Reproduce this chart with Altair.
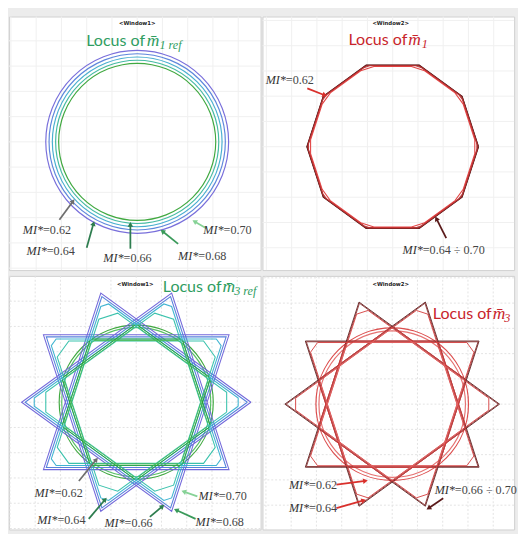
import math
import pandas as pd
import altair as alt

PX = 26.0  # pixels per grid cell (1 data unit = 1 grid cell)

# ---------------- panel frames (data units, locus centre = 0,0) ----------------
panel_w = [259, 259, 259, 259]
panel_h = [261, 261, 261, 261]
x_domain = [[-5.077, 4.885], [-5.154, 4.808], [-5.038, 4.923], [-5.135, 4.827]]
y_domain = [[-5.077, 4.962], [-4.885, 5.154], [-5.038, 5.000], [-4.962, 5.077]]

vertex_angle = [0, 36, 72, 108, 144, 180, 216, 252, 288, 324]
chord_mid_angle = [18, 54, 90, 126, 162, 198, 234, 270, 306, 342]

# ---------------- Locus of m1 ref (concentric circles) ----------------
ring_mi = ["0.70", "0.68", "0.66", "0.64", "0.62"]
ring_radius = [3.62, 3.49, 3.36, 3.23, 3.11]
ring_color = ["#6b60d8", "#4d7bd9", "#36a7cc", "#33b49a", "#2ca02c"]

# ---------------- Locus of m1 (decagons) ----------------
dec_mi = ["0.70", "0.68", "0.66", "0.64", "0.62"]
dec_radius = [3.40, 3.39, 3.38, 3.37, 3.34]
dec_chamfer = [0.0, 0.0, 0.03, 0.06, 0.14]
dec_color = ["#4b1111", "#6e1e1e", "#942b2b", "#bb3434", "#e03a3a"]

# ---------------- Locus of m3 ref (star decagrams {10/3}) ----------------
s3r_mi = ["0.70", "0.68", "0.66", "0.64"]
s3r_tip = [4.54, 4.40, 4.26, 4.12]
s3r_chamfer = [0.0, 0.0, 0.04, 0.10]
s3r_color = ["#6b60d8", "#4d7bd9", "#36b0cf", "#2fbfa8"]
s3r_clip_mi = ["0.62", "0.62b"]
s3r_clip_radius = [3.05, 2.95]
s3r_clip_dist = [2.50, 2.44]
s3r_clip_color = ["#2ca02c", "#46bb55"]

# ---------------- Locus of m3 ----------------
s3_mi = ["0.70", "0.68", "0.66"]
s3_tip = [4.25, 4.20, 4.15]
s3_chamfer = [0.0, 0.0, 0.06]
s3_color = ["#5e1c1c", "#8a3535", "#d64040"]
s3_clip_mi = ["0.62", "0.64"]
s3_clip_radius = [3.02, 2.90]
s3_clip_dist = [2.50, 2.45]
s3_clip_color = ["#d93a3a", "#e36464"]

# ---------------- annotations (data units) ----------------
# label: split point between italic "MI*" and its value
lab_TL = dict(value=["=0.62", "=0.64", " =0.66", " =0.68", "=0.70"],
              x=[-3.73, -3.58, -0.54, 2.42, 3.42], y=[-3.50, -4.31, -4.62, -4.54, -3.50])
arr_TL = dict(x=[-3.08, -2.00, -0.27, 1.62, 2.73], y=[-3.08, -4.19, -4.23, -4.04, -3.42],
              hx=[-2.54, -1.73, -0.27, 1.00, 2.27], hy=[-2.35, -3.23, -3.27, -3.54, -3.15],
              col=["#6e6e6e", "#2e7d4f", "#2e7d4f", "#3a9a5a", "#86d296"])
lab_TR = dict(value=["=0.62", " =0.64 ÷ 0.70"], x=[-4.23, 1.19], y=[2.62, -4.08])
arr_TR = dict(x=[-3.38, 2.12], y=[2.31, -3.62], hx=[-2.69, 1.73], hy=[2.04, -2.85],
              col=["#d9302c", "#5a1a1a"])
lab_BL = dict(value=["=0.62", "=0.64", " =0.66", " =0.68", "=0.70"],
              x=[-3.23, -3.12, -0.46, 3.15, 3.27], y=[-3.58, -4.65, -4.77, -4.73, -3.73])
arr_BL = dict(x=[-2.27, -1.88, 0.54, 2.35, 2.42], y=[-3.12, -4.62, -4.54, -4.62, -3.73],
              hx=[-1.58, -1.23, 1.04, 1.58, 1.88], hy=[-2.27, -3.85, -4.12, -4.27, -3.54],
              col=["#6e6e6e", "#2e7d4f", "#2e7d4f", "#3a9a5a", "#86d296"])
lab_BR = dict(value=["=0.62", "=0.64", " =0.66 ÷ 0.70"],
              x=[-3.29, -3.29, 2.48], y=[-3.19, -4.12, -3.42])
arr_BR = dict(x=[-2.21, -2.21, 2.02], y=[-3.19, -4.12, -3.73],
              hx=[-1.06, -1.13, 1.44], hy=[-3.04, -3.81, -4.12],
              col=["#d9302c", "#d9302c", "#5a1a1a"])

# titles: window tag, "Locus of", m-bar, subscript
titles = [
    dict(win="<Window1>", wx=0.0, wy=4.69, tx=0.31, ty=4.00, mx=0.38, sub="1 ref", sx=0.88, sy=3.85,
         col="#2f9d5f"),
    dict(win="<Window2>", wx=-0.08, wy=4.88, tx=0.58, ty=4.23, mx=0.62, sub="1", sx=1.15, sy=4.08,
         col="#c8242b"),
    dict(win="<Window1>", wx=-0.04, wy=4.69, tx=3.38, ty=4.54, mx=3.42, sub="3 ref", sx=3.88, sy=4.38,
         col="#2f9d5f"),
    dict(win="<Window2>", wx=-0.06, wy=4.77, tx=3.94, ty=3.58, mx=3.98, sub="3", sx=4.44, sy=3.42,
         col="#c8242b"),
]


# ---------------- geometry helpers ----------------
def polygon_path(radius, step, chamfer):
    n = len(vertex_angle)
    order = [vertex_angle[(step * i) % n] for i in range(n)]
    pts = [(radius * math.cos(math.radians(a)), radius * math.sin(math.radians(a))) for a in order]
    if chamfer == 0:
        return pts + [pts[0]]
    out = []
    for i in range(n):
        v, p, q = pts[i], pts[i - 1], pts[(i + 1) % n]
        out.append((v[0] + chamfer * (p[0] - v[0]), v[1] + chamfer * (p[1] - v[1])))
        out.append((v[0] + chamfer * (q[0] - v[0]), v[1] + chamfer * (q[1] - v[1])))
    return out + [out[0]]


def paths_df(names, radii, chamfers, colors, step):
    rows = []
    for nm, r, f, c in zip(names, radii, chamfers, colors):
        for j, (x, y) in enumerate(polygon_path(r, step, f)):
            rows.append({"curve": nm, "col": c, "i": j, "x": x, "y": y})
    return pd.DataFrame(rows)


def clip_circles_df(names, radii, colors):
    return pd.DataFrame({"curve": names, "x": [0.0] * len(names), "y": [0.0] * len(names),
                         "r2": [r * r for r in radii], "col": colors})


def clip_chords_df(names, radii, dists, colors):
    rows = []
    for nm, r, d, c in zip(names, radii, dists, colors):
        al = math.degrees(math.acos(d / r))
        for m in chord_mid_angle:
            a1, a2 = math.radians(m - al), math.radians(m + al)
            rows.append({"curve": nm, "col": c, "x": r * math.cos(a1), "y": r * math.sin(a1),
                         "x2": r * math.cos(a2), "y2": r * math.sin(a2)})
    return pd.DataFrame(rows)


def arrows_df(a):
    df = pd.DataFrame(a)
    df["ang"] = [(math.degrees(math.atan2(hx - x, hy - y)) + 360) % 360
                 for x, y, hx, hy in zip(df.x, df.y, df.hx, df.hy)]
    return df


# ---------------- panel builder ----------------
def make_panel(k, lines=None, circles=None, chords=None, labels=None, arrows=None, dashed=False,
               line_width=1.1):
    xs = alt.Scale(domain=x_domain[k], nice=False, zero=False)
    ys = alt.Scale(domain=y_domain[k], nice=False, zero=False)

    def X(f):
        return alt.X(f, type="quantitative", scale=xs, axis=None)

    def Y(f):
        return alt.Y(f, type="quantitative", scale=ys, axis=None)

    col = alt.Color("col:N", scale=None)
    gx = [g for g in range(-6, 7) if x_domain[k][0] < g < x_domain[k][1]]
    gy = [g for g in range(-6, 7) if y_domain[k][0] < g < y_domain[k][1]]
    gstyle = dict(color="#e2e2e2", strokeWidth=1, strokeDash=[2, 2]) if dashed else \
        dict(color="#efefef", strokeWidth=1)
    layers = [
        alt.Chart(pd.DataFrame({"g": gx})).mark_rule(**gstyle).encode(x=X("g")),
        alt.Chart(pd.DataFrame({"g": gy})).mark_rule(**gstyle).encode(y=Y("g")),
    ]
    if circles is not None:
        layers.append(alt.Chart(circles).mark_point(shape="circle", filled=False, strokeWidth=1.2,
                                                    opacity=0.9).encode(
            x=X("x"), y=Y("y"), color=col,
            # Vega symbol size = area of the bounding square -> (2 r)^2
            size=alt.Size("r2:Q", scale=alt.Scale(domain=[0, 20], range=[0, 20 * 4 * PX * PX]),
                          legend=None)))
    if lines is not None:
        layers.append(alt.Chart(lines).mark_line(strokeWidth=line_width, opacity=0.95).encode(
            x=X("x"), y=Y("y"), color=col, detail="curve:N", order=alt.Order("i:Q")))
    if chords is not None:
        layers.append(alt.Chart(chords).mark_rule(strokeWidth=1.0, opacity=0.95).encode(
            x=X("x"), y=Y("y"), x2="x2", y2="y2", color=col))
    if arrows is not None:
        layers.append(alt.Chart(arrows).mark_rule(strokeWidth=1.8).encode(
            x=X("x"), y=Y("y"), x2="hx", y2="hy", color=col))
        layers.append(alt.Chart(arrows).mark_point(shape="triangle-up", filled=True, size=32,
                                                   opacity=1).encode(
            x=X("hx"), y=Y("hy"), color=col, angle=alt.Angle("ang:Q", scale=None)))
    if labels is not None:
        ldf = pd.DataFrame(labels)
        layers.append(alt.Chart(ldf).mark_text(font="Liberation Serif", fontStyle="italic",
                                               fontSize=12.5, align="right", baseline="middle",
                                               color="#333333").encode(
            x=X("x"), y=Y("y"), text=alt.value("MI*")))
        layers.append(alt.Chart(ldf).mark_text(font="Liberation Serif", fontSize=12.5, align="left",
                                               baseline="middle", color="#444444").encode(
            x=X("x"), y=Y("y"), text="value:N"))
    t = titles[k]
    tdf = pd.DataFrame([t])
    layers += [
        alt.Chart(tdf).mark_text(font="DejaVu Sans", fontSize=5.5, fontWeight="bold", color="#222222",
                                 baseline="middle").encode(x=X("wx"), y=Y("wy"), text="win:N"),
        alt.Chart(tdf).mark_text(font="Lato", fontSize=16.5, align="right", baseline="middle").encode(
            x=X("tx"), y=Y("ty"), text=alt.value("Locus of"), color=col),
        alt.Chart(tdf).mark_text(font="Liberation Serif", fontStyle="italic", fontSize=18, align="left",
                                 baseline="middle").encode(
            x=X("mx"), y=Y("ty"), text=alt.value("m\u0304"), color=col),
        alt.Chart(tdf).mark_text(font="Liberation Serif", fontStyle="italic", fontSize=12.5, align="left",
                                 baseline="middle").encode(x=X("sx"), y=Y("sy"), text="sub:N", color=col),
    ]
    return alt.layer(*layers).properties(width=panel_w[k], height=panel_h[k])


tl = make_panel(0,
                circles=pd.DataFrame({"curve": ring_mi, "x": 0.0, "y": 0.0,
                                      "r2": [r * r for r in ring_radius], "col": ring_color}),
                labels=lab_TL, arrows=arrows_df(arr_TL))
tr = make_panel(1, lines=paths_df(dec_mi, dec_radius, dec_chamfer, dec_color, 1),
                labels=lab_TR, arrows=arrows_df(arr_TR))
bl = make_panel(2, lines=paths_df(s3r_mi, s3r_tip, s3r_chamfer, s3r_color, 3),
                circles=clip_circles_df(s3r_clip_mi, s3r_clip_radius, s3r_clip_color),
                chords=clip_chords_df(s3r_clip_mi, s3r_clip_radius, s3r_clip_dist, s3r_clip_color),
                labels=lab_BL, arrows=arrows_df(arr_BL), dashed=True)
br = make_panel(3, lines=paths_df(s3_mi, s3_tip, s3_chamfer, s3_color, 3),
                circles=clip_circles_df(s3_clip_mi, s3_clip_radius, s3_clip_color),
                chords=clip_chords_df(s3_clip_mi, s3_clip_radius, s3_clip_dist, s3_clip_color),
                labels=lab_BR, arrows=arrows_df(arr_BR), dashed=True, line_width=1.0)

chart = alt.vconcat(
    alt.hconcat(tl, tr, spacing=0),
    alt.hconcat(bl, br, spacing=0),
    spacing=4,
).properties(padding=0, background="#ececec").configure_view(fill="white", stroke="#cfcfcf")

chart.save("out.html", embed_options={"renderer": "svg", "actions": False})
